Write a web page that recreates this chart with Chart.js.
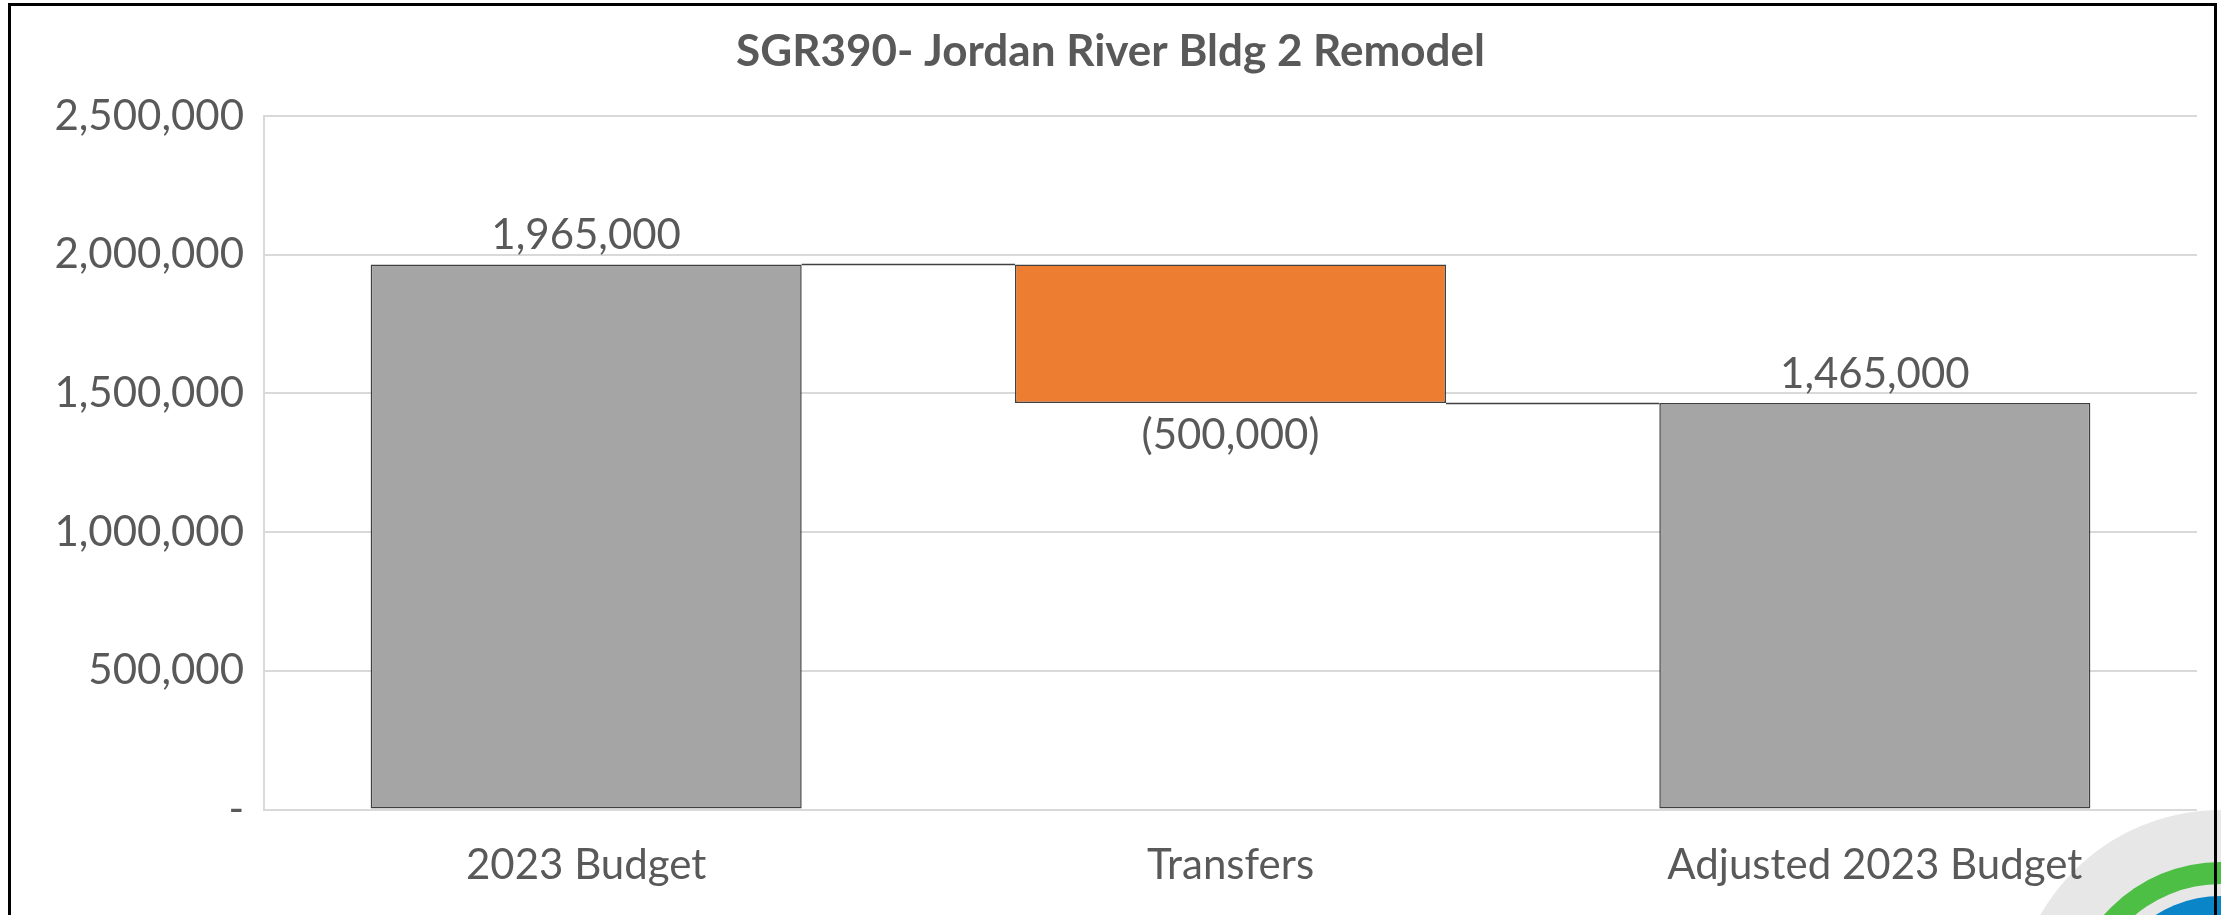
<!DOCTYPE html>
<html>
<head>
<meta charset="utf-8">
<title>SGR390 Waterfall</title>
<script src="https://cdn.jsdelivr.net/npm/chart.js@4.4.1/dist/chart.umd.min.js"></script>
<style>
    html, body { margin: 0; padding: 0; background: #ffffff; overflow: hidden; }
    #wrap { position: relative; width: 2221px; height: 915px; }
</style>
</head>
<body>
<div id="wrap"><canvas id="waterfallChart" width="2221" height="915"></canvas></div>
<script>
// Chart data
const chartTitle = 'SGR390- Jordan River Bldg 2 Remodel';
const categories = ['2023 Budget', 'Transfers', 'Adjusted 2023 Budget'];
const amounts = [1965000, -500000, 1465000];
const isTotal = [true, false, true];
const barColors = ['#A5A5A5', '#ED7D31', '#A5A5A5'];
const yTicks = [0, 500000, 1000000, 1500000, 2000000, 2500000];

const textColor = '#595959';
const fontFamily = 'Lato, "Open Sans", sans-serif';

// Build floating ranges and the running level after each step
let running = 0;
const levels = [];
const ranges = amounts.map((v, i) => {
    if (isTotal[i]) {
        running = v;
        levels.push(running);
        return [0, v];
    }
    const start = running;
    running += v;
    levels.push(running);
    return [Math.min(start, running), Math.max(start, running)];
});

function fmt(v) {
    if (v === 0) return '-';
    const s = Math.abs(v).toLocaleString('en-US');
    return v < 0 ? '(' + s + ')' : s;
}

// White background, the corner logo behind everything
const backgroundPlugin = {
    id: 'background',
    beforeDraw(chart) {
        const ctx = chart.ctx;
        ctx.save();
        ctx.fillStyle = '#ffffff';
        ctx.fillRect(0, 0, chart.width, chart.height);

        const cx = 2221, cy = 1018;
        const rings = [
            { r: 208, color: '#E7E7E8' },
            { r: 156, color: '#4CBF44' },
            { r: 134, color: '#E7E7E8' },
            { r: 122, color: '#0A85C7' }
        ];
        rings.forEach(ring => {
            ctx.beginPath();
            ctx.arc(cx, cy, ring.r, 0, Math.PI * 2);
            ctx.fillStyle = ring.color;
            ctx.fill();
        });
        ctx.restore();
    },
    afterDraw(chart) {
        // outer frame (bottom edge is off-screen)
        const ctx = chart.ctx;
        ctx.save();
        ctx.strokeStyle = '#000000';
        ctx.lineWidth = 3;
        ctx.beginPath();
        ctx.moveTo(9.5, 930);
        ctx.lineTo(9.5, 4.5);
        ctx.lineTo(2215.5, 4.5);
        ctx.lineTo(2215.5, 930);
        ctx.stroke();
        ctx.restore();
    }
};

// Connector lines between waterfall steps + value labels
const waterfallPlugin = {
    id: 'waterfall',
    afterDatasetsDraw(chart) {
        const ctx = chart.ctx;
        const meta = chart.getDatasetMeta(0);
        const yScale = chart.scales.y;

        ctx.save();
        ctx.strokeStyle = '#404040';
        ctx.lineWidth = 1.5;
        for (let i = 0; i < meta.data.length - 1; i++) {
            const a = meta.data[i];
            const b = meta.data[i + 1];
            const py = Math.round(yScale.getPixelForValue(levels[i])) + 0.5;
            ctx.beginPath();
            ctx.moveTo(a.x + a.width / 2, py);
            ctx.lineTo(b.x - b.width / 2, py);
            ctx.stroke();
        }

        ctx.fillStyle = textColor;
        ctx.font = '42px ' + fontFamily;
        ctx.textAlign = 'center';
        ctx.textBaseline = 'middle';
        meta.data.forEach((bar, i) => {
            const v = amounts[i];
            const top = Math.min(bar.y, bar.base);
            const bottom = Math.max(bar.y, bar.base);
            const y = v >= 0 ? top - 29 : bottom + 32;
            ctx.fillText(fmt(v), bar.x, y);
        });
        ctx.restore();
    }
};

new Chart(document.getElementById('waterfallChart').getContext('2d'), {
    type: 'bar',
    data: {
        labels: categories,
        datasets: [{
            data: ranges,
            backgroundColor: barColors,
            borderColor: '#404040',
            borderWidth: 1.5,
            borderSkipped: false,
            barPercentage: 0.669,
            categoryPercentage: 1
        }]
    },
    options: {
        responsive: false,
        devicePixelRatio: 1,
        animation: false,
        layout: { padding: { left: 24, right: 24, top: 0, bottom: 0 } },
        plugins: {
            legend: { display: false },
            tooltip: { enabled: false },
            title: {
                display: true,
                text: chartTitle,
                color: textColor,
                font: { family: fontFamily, size: 44, weight: 'bold' },
                padding: { top: 25.5, bottom: 37.7 }
            }
        },
        scales: {
            x: {
                grid: { display: false },
                border: { display: false },
                ticks: {
                    color: textColor,
                    font: { family: fontFamily, size: 42 },
                    padding: 23,
                    maxRotation: 0
                },
                afterFit: (scale) => { scale.height = 105.5; }
            },
            y: {
                min: 0,
                max: 2500000,
                grid: { color: '#D9D9D9', lineWidth: 2, drawTicks: false },
                border: { display: true, color: '#D9D9D9', width: 2 },
                ticks: {
                    color: textColor,
                    font: { family: fontFamily, size: 42 },
                    padding: 20,
                    callback: (v) => fmt(v)
                },
                afterBuildTicks: (scale) => { scale.ticks = yTicks.map(v => ({ value: v })); },
                afterFit: (scale) => { scale.width = 240; }
            }
        }
    },
    plugins: [backgroundPlugin, waterfallPlugin]
});
</script>
</body>
</html>
